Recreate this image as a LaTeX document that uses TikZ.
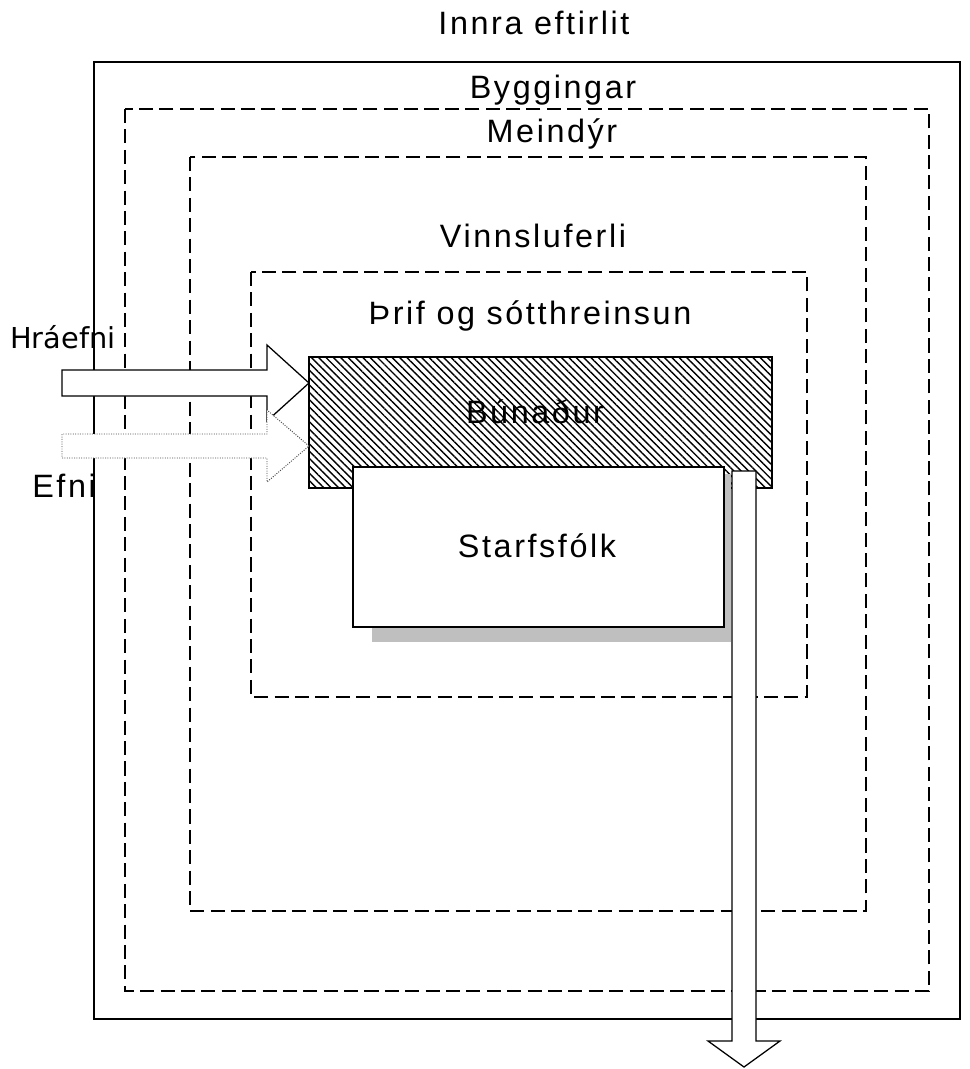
\documentclass[tikz,border=0pt]{standalone}
\usepackage{fontspec}
\setmainfont{Liberation Sans}[LetterSpace=8]
\newfontfamily\hrfont{DejaVu Sans}
\usetikzlibrary{patterns.meta}
\newcommand{\zonebox}[3] {\draw [#3] (#1) rectangle (#2);}
\newcommand{\zonelabel}[3] {\node at (#1) (#2) [zonetext] {#3};}
\newcommand{\rightblockarrow}[4] {\draw [#4] (#1) -- ++(-42,-#2) -- ++(0,#2-#3) -- ++(-205,0) -- ++(0,2*#3) -- ++(205,0) -- ++(0,#2-#3) -- cycle;}
\tikzset{
  zone/.style={dash pattern=on 10pt off 4.5pt, line width=1.6pt},
  zonetext/.style={anchor=base, inner sep=0pt, font=\fontsize{23}{27}\selectfont},
  blockarrow/.style={draw, fill=white, line width=0.9pt},
}
\begin{document}
\begin{tikzpicture}[x=0.025cm, y=-0.025cm]
\useasboundingbox (0,0) rectangle (969,1069);
% nested zones
\zonebox{94,62}{960,1019}{line width=1.4pt}
\zonebox{125,109}{929,991}{zone}
\zonebox{190,157}{866,911}{zone}
\zonebox{251,272}{807,697}{zone}
% equipment and staff
\zonebox{309,357}{772,488}{fill=white, pattern={Lines[angle=-45, distance=3.7pt, line width=1pt]}}
\zonebox{309,357}{772,488}{line width=1pt}
\fill [black!25] (372,474) rectangle (731,642);
\zonebox{353,467}{724,627}{fill=white, line width=1pt}
% inputs
\rightblockarrow{309,383}{38}{13}{blockarrow}
\rightblockarrow{309,446}{36}{12}{draw=black!70, fill=white, densely dotted, line width=0.7pt}
% output
\draw [blockarrow] (744,1067) -- ++(-36,-26) -- ++(24,0) -- ++(0,-570) -- ++(24,0) -- ++(0,570) -- ++(24,0) -- cycle;
% labels
\zonelabel{534,35}{innra}{Innra eftirlit}
\zonelabel{553,99}{bygg}{Byggingar}
\zonelabel{552,143}{meindyr}{Meindýr}
\zonelabel{533,248}{vinnsla}{Vinnsluferli}
\zonelabel{530,324}{thrif}{Þrif og sótthreinsun}
\zonelabel{535,423}{bunadur}{Búnaður}
\zonelabel{537,557}{starf}{Starfsfólk}
\node at (10,348) (hraefni) [anchor=base west, inner sep=0pt, font=\hrfont\fontsize{20.5}{24}\selectfont] {Hráefni};
\node at (32,497) (efni) [zonetext, anchor=base west] {Efni};
\end{tikzpicture}
\end{document}
